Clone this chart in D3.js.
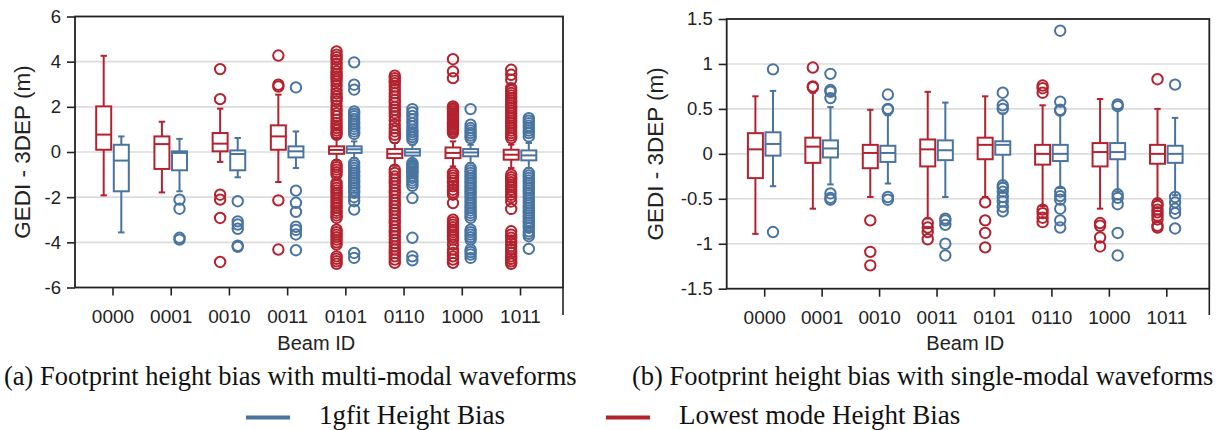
<!DOCTYPE html>
<html>
<head>
<meta charset="utf-8">
<script src="https://cdn.jsdelivr.net/npm/d3@7"></script>
<style>
  body { margin: 0; background: #fff; }
  text { font-family: "Liberation Sans", Arial, sans-serif; fill: #222; }
  .serif { font-family: "Liberation Serif", "Times New Roman", serif; fill: #111; }
</style>
</head>
<body>
<script>
// beam ids on the x axis
var beams = ["0000", "0001", "0010", "0011", "0101", "0110", "1000", "1011"];

var multiTicks = [-6, -4, -2, 0, 2, 4, 6];
var singleTicks = [-1.5, -1, -0.5, 0, 0.5, 1, 1.5];

// box stats per beam: [whisker low, q1, median, q3, whisker high]
// (a) multi-modal, lowest mode
var multiLowBox = [
	[-1.92, 0.10, 0.77, 2.02, 4.26],
	[-1.79, -0.75, 0.35, 0.69, 1.34],
	[-0.44, 0.03, 0.37, 0.84, 1.92],
	[-1.33, 0.10, 0.69, 1.18, 2.54],
	[-0.37, -0.08, 0.09, 0.25, 0.62],
	[-0.61, -0.27, -0.08, 0.13, 0.40],
	[-0.64, -0.27, -0.04, 0.20, 0.47],
	[-0.71, -0.34, -0.12, 0.10, 0.32]
];
var multiLowOut = [
	[],
	[],
	[3.67, 2.34, -1.89, -2.11, -2.92, -4.87],
	[4.27, 2.98, 2.90, -2.14, -4.32],
	[4.45, 4.31, 4.2, 4.08, 3.9, 3.72, 3.57, 3.45, 3.35, 3.24, 3.12, 2.95, 2.76, 2.6, 2.46, 2.35, 2.24, 2.05, 1.87, 1.72, 1.58, 1.43, 1.28, 1.17, 1.06, 0.95, 0.84, 0.76,
		-0.56, -0.67, -0.78, -0.89, -1.0, -1.37, -1.48, -1.59, -1.7, -1.81, -1.92, -2.04, -2.15, -2.26, -2.37, -2.48, -2.6, -2.7, -2.81, -2.92,
		-3.44, -3.55, -3.66, -3.77, -3.88, -4.0, -4.1, -4.62, -4.73, -4.84, -4.95],
	[3.38, 3.27, 3.16, 3.05, 2.9, 2.76, 2.6, 2.46, 2.3, 2.17, 2.0, 1.87, 1.72, 1.58, 1.4, 1.21, 1.05, 0.91, 0.76, 0.62,
		-0.78, -0.93, -1.08, -1.22, -1.37, -1.52, -1.67, -1.81, -1.96, -2.11, -2.26, -2.4, -2.55, -2.7, -2.85, -3.0, -3.14, -3.3, -3.44,
		-3.58, -3.73, -3.88, -4.03, -4.18, -4.32, -4.47, -4.62, -4.76, -4.91],
	[4.11, 3.57, 3.27, 2.02, 1.94, 1.87, 1.8, 1.72, 1.65, 1.58, 1.5, 1.43, 1.35, 1.28, 1.2, 1.13, 1.06, 0.99, 0.92, 0.84,
		-0.93, -1.04, -1.15, -1.26, -1.37, -1.52, -1.67, -1.78, -1.89, -2.26, -3.0, -3.11, -3.22, -3.33, -3.44, -3.55, -3.66, -3.77, -3.88,
		-4.1, -4.32, -4.47, -4.62, -4.76, -4.91],
	[3.64, 3.42, 3.2, 2.83, 2.72, 2.61, 2.5, 2.39, 2.28, 2.17, 2.06, 1.95, 1.84, 1.72, 1.61, 1.5, 1.39, 1.28, 1.17, 1.06, 0.95, 0.84, 0.73, 0.62,
		-1.0, -1.12, -1.23, -1.34, -1.45, -1.56, -1.67, -1.78, -1.89, -2.0, -2.19, -2.52, -3.51, -3.66, -3.8, -3.92, -4.03, -4.18, -4.32,
		-4.47, -4.62, -4.73, -4.84, -4.95]
];
// (a) multi-modal, 1gfit
var multiFitBox = [
	[-3.56, -1.74, -0.38, 0.32, 0.69],
	[-1.74, -0.81, -0.04, 0.03, 0.58],
	[-1.12, -0.81, -0.09, 0.07, 0.62],
	[-0.71, -0.24, 0.03, 0.25, 0.91],
	[-0.27, -0.04, 0.12, 0.25, 0.47],
	[-0.42, -0.16, -0.02, 0.13, 0.32],
	[-0.49, -0.19, -0.02, 0.13, 0.32],
	[-0.71, -0.37, -0.15, 0.07, 0.40]
];
var multiFitOut = [
	[],
	[-2.11, -2.51, -3.8, -3.88],
	[-2.18, -3.07, -3.21, -3.4, -4.15, -4.2],
	[2.86, -1.71, -2.25, -2.65, -3.31, -3.45, -3.65, -4.35],
	[3.97, 2.98, 2.76, 1.8, 1.69, 1.58, 1.46, 1.35, 1.24, 1.13, 1.02, 0.91, 0.8,
		-0.49, -0.6, -0.71, -0.82, -0.93, -1.04, -1.15, -1.26, -1.37, -1.48, -1.59, -1.7, -1.81, -2.0, -2.18, -2.55, -4.47, -4.69],
	[1.9, 1.75, 1.6, 1.44, 1.28, 1.13, 0.99, 0.88, 0.77, 0.66, 0.55,
		-0.49, -0.57, -0.64, -0.71, -0.78, -0.86, -0.93, -1.04, -1.15, -1.26, -1.37, -1.5, -2.04, -3.8, -4.62, -4.8],
	[1.9, 1.21, 1.06, 0.95, 0.84, 0.73, 0.62,
		-0.71, -0.82, -0.93, -1.04, -1.15, -1.26, -1.37, -1.48, -1.59, -1.7, -1.81, -1.92, -2.04, -2.15, -2.26, -2.37, -2.48, -2.59, -2.7,
		-2.81, -2.92, -3.44, -3.55, -3.66, -3.77, -3.88, -4.32, -4.43, -4.54, -4.69],
	[1.5, 1.39, 1.28, 1.17, 1.06, 0.95, 0.84, 0.69,
		-0.93, -1.04, -1.15, -1.26, -1.37, -1.48, -1.59, -1.7, -1.81, -1.92, -2.04, -2.15, -2.26, -2.37, -2.48, -2.59, -2.7, -2.81, -2.92,
		-3.03, -3.14, -3.25, -3.36, -3.51, -3.62, -3.73, -4.29]
];

// (b) single-modal, lowest mode
var singleLowBox = [
	[-0.89, -0.27, 0.05, 0.23, 0.64],
	[-0.61, -0.10, 0.08, 0.18, 0.68],
	[-0.48, -0.16, 0.01, 0.10, 0.49],
	[-0.72, -0.14, 0.05, 0.16, 0.69],
	[-0.48, -0.06, 0.10, 0.18, 0.64],
	[-0.58, -0.12, 0.00, 0.10, 0.54],
	[-0.61, -0.14, 0.02, 0.12, 0.61],
	[-0.51, -0.11, 0.00, 0.10, 0.50]
];
var singleLowOut = [
	[],
	[0.96, 0.75, 0.74],
	[-0.74, -1.09, -1.24],
	[-0.77, -0.82, -0.87, -0.95],
	[-0.54, -0.74, -0.88, -1.04],
	[0.76, 0.73, 0.68, -0.62, -0.66, -0.71, -0.76],
	[-0.77, -0.8, -0.93, -1.03],
	[0.83, -0.55, -0.58, -0.62, -0.65, -0.69, -0.73, -0.8, -0.82]
];
// (b) single-modal, 1gfit
var singleFitBox = [
	[-0.36, -0.02, 0.11, 0.24, 0.70],
	[-0.34, -0.04, 0.06, 0.15, 0.52],
	[-0.33, -0.09, 0.01, 0.09, 0.43],
	[-0.48, -0.07, 0.04, 0.15, 0.57],
	[-0.32, -0.01, 0.10, 0.14, 0.45],
	[-0.38, -0.08, 0.00, 0.10, 0.43],
	[-0.42, -0.06, 0.02, 0.12, 0.50],
	[-0.46, -0.10, 0.00, 0.09, 0.40]
];
var singleFitOut = [
	[0.94, -0.87],
	[0.89, 0.71, 0.69, 0.62, -0.44, -0.49, -0.51],
	[0.66, 0.5, 0.49, -0.48, -0.51],
	[-0.72, -0.74, -0.79, -1.0, -1.13],
	[0.68, 0.54, 0.5, -0.35, -0.38, -0.42, -0.48, -0.53, -0.59, -0.64],
	[1.37, 0.58, 0.49, 0.48, -0.42, -0.47, -0.51, -0.61, -0.74, -0.82],
	[0.55, 0.53, -0.45, -0.49, -0.56, -0.88, -1.13],
	[0.77, -0.48, -0.54, -0.61, -0.66, -0.83]
];

var red = "#b3222f", blue = "#4a74a0";

var svg = d3.select("body").append("svg")
	.attr("width", 1219)
	.attr("height", 430);

function drawPanel(p) {
	var y = d3.scaleLinear().domain(p.domain).range([p.bottom, p.top]);
	var x = d3.scalePoint().domain(beams).range([p.left + 37.5, p.right - 43]);
	var g = svg.append("g");

	// grid
	g.selectAll(".grid")
		.data(p.ticks.slice(1, -1))
		.enter().append("line")
		.attr("x1", p.left).attr("x2", p.right)
		.attr("y1", function (d) { return y(d); })
		.attr("y2", function (d) { return y(d); })
		.style("stroke", "#dcdcdc")
		.style("stroke-width", 1.6);

	// axes
	var ya = g.append("g")
		.attr("transform", "translate(" + p.left + ",0)")
		.call(d3.axisLeft(y).tickValues(p.ticks).tickSize(8).tickPadding(p.ypad).tickFormat(function (d) { return String(d); }));
	ya.select(".domain").remove();
	ya.selectAll("text").style("font-size", "18.5px").attr("fill", "#222");
	ya.selectAll("line").style("stroke", "#222").style("stroke-width", 1.6);

	var xa = g.append("g")
		.attr("transform", "translate(0," + p.bottom + ")")
		.call(d3.axisBottom(x).tickSize(8).tickPadding(14));
	xa.select(".domain").remove();
	xa.selectAll("text").style("font-size", "19px").attr("fill", "#222");
	xa.selectAll("line").style("stroke", "#222").style("stroke-width", 1.6);

	// frame
	g.append("rect")
		.attr("x", p.left).attr("y", p.top)
		.attr("width", p.right - p.left).attr("height", p.bottom - p.top)
		.style("fill", "none").style("stroke", "#222").style("stroke-width", 1.8);
	g.append("line")
		.attr("x1", p.right).attr("x2", p.right)
		.attr("y1", p.bottom).attr("y2", 315)
		.style("stroke", "#222").style("stroke-width", 1.6);

	// boxes
	var series = [
		{ box: p.lowBox, out: p.lowOut, color: red, dx: -8.8 },
		{ box: p.fitBox, out: p.fitOut, color: blue, dx: 8.8 }
	];
	var hw = 7.5, cap = 3.2;
	series.forEach(function (s) {
		var sg = g.append("g").style("stroke", s.color).style("stroke-width", 2).style("fill", "none");
		s.box.forEach(function (b, i) {
			var cx = x(beams[i]) + s.dx;
			sg.append("line").attr("x1", cx).attr("x2", cx).attr("y1", y(b[0])).attr("y2", y(b[1]));
			sg.append("line").attr("x1", cx).attr("x2", cx).attr("y1", y(b[3])).attr("y2", y(b[4]));
			sg.append("line").attr("x1", cx - cap).attr("x2", cx + cap).attr("y1", y(b[0])).attr("y2", y(b[0]));
			sg.append("line").attr("x1", cx - cap).attr("x2", cx + cap).attr("y1", y(b[4])).attr("y2", y(b[4]));
			sg.append("rect")
				.attr("x", cx - hw).attr("y", y(b[3]))
				.attr("width", hw * 2).attr("height", Math.max(1, y(b[1]) - y(b[3])))
				.style("fill", "#fff");
			sg.append("line").attr("x1", cx - hw).attr("x2", cx + hw).attr("y1", y(b[2])).attr("y2", y(b[2]));
			sg.selectAll(null)
				.data(s.out[i])
				.enter().append("circle")
				.attr("cx", cx)
				.attr("cy", function (d) { return y(d); })
				.attr("r", 5.2);
		});
	});

	// labels
	g.append("text")
		.attr("transform", "translate(" + p.ylabX + "," + ((p.top + p.bottom) / 2) + ") rotate(-90)")
		.attr("text-anchor", "middle")
		.style("font-size", "22.5px")
		.text("GEDI - 3DEP (m)");
	g.append("text")
		.attr("x", (x.range()[0] + x.range()[1]) / 2)
		.attr("y", 350)
		.attr("text-anchor", "middle")
		.style("font-size", "20px")
		.text("Beam ID");
	g.append("text")
		.attr("class", "serif")
		.attr("x", p.capX)
		.attr("y", 385)
		.style("font-size", "26.5px")
		.text(p.caption);
}

drawPanel({
	left: 75, right: 563, top: 16.5, bottom: 287.5,
	domain: [-6, 6], ticks: multiTicks, ypad: 6, ylabX: 30,
	lowBox: multiLowBox, lowOut: multiLowOut, fitBox: multiFitBox, fitOut: multiFitOut,
	caption: "(a) Footprint height bias with multi-modal waveforms", capX: 4
});
drawPanel({
	left: 726.7, right: 1209.3, top: 19, bottom: 288.7,
	domain: [-1.5, 1.5], ticks: singleTicks, ypad: 6, ylabX: 663,
	lowBox: singleLowBox, lowOut: singleLowOut, fitBox: singleFitBox, fitOut: singleFitOut,
	caption: "(b) Footprint height bias with single-modal waveforms", capX: 632
});

// legend
var legend = [
	{ label: "1gfit Height Bias", color: blue, x: 246 },
	{ label: "Lowest mode Height Bias", color: red, x: 606 }
];
var lg = svg.selectAll(".legend").data(legend).enter().append("g");
lg.append("line")
	.attr("x1", function (d) { return d.x; })
	.attr("x2", function (d) { return d.x + 44; })
	.attr("y1", 417.5).attr("y2", 417.5)
	.style("stroke", function (d) { return d.color; })
	.style("stroke-width", 4);
lg.append("text")
	.attr("class", "serif")
	.attr("x", function (d) { return d.x + 73; })
	.attr("y", 424)
	.style("font-size", "27px")
	.text(function (d) { return d.label; });
</script>
</body>
</html>
